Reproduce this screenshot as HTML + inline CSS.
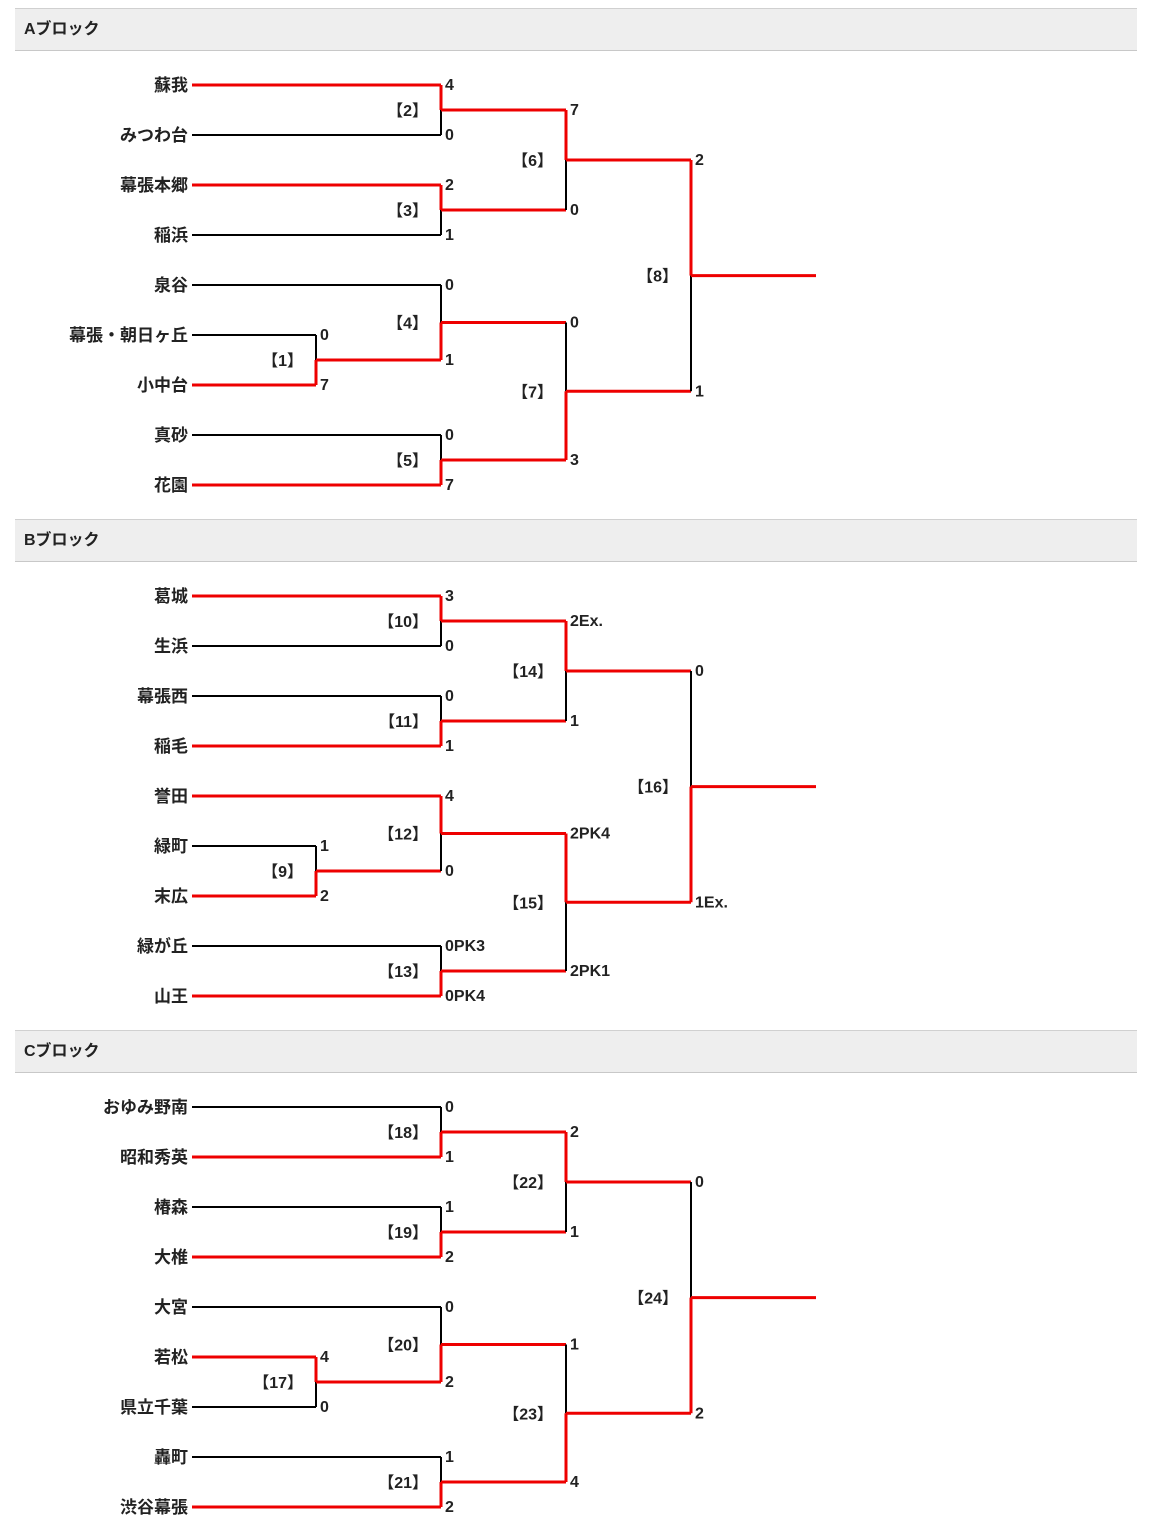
<!DOCTYPE html>
<html><head><meta charset="utf-8">
<style>
html,body{margin:0;padding:0;background:#fff;width:1151px;height:1526px;overflow:hidden}
svg text{font-family:"Liberation Sans","Noto Sans CJK JP",sans-serif;font-weight:bold;fill:#222}
</style></head>
<body>
<svg id="chart" width="1151" height="1526" xmlns="http://www.w3.org/2000/svg"></svg>
<script>
// Block titles
const blockTitles = ["Aブロック", "Bブロック", "Cブロック"];
// Teams per block (top to bottom)
const teamsA = ["蘇我","みつわ台","幕張本郷","稲浜","泉谷","幕張・朝日ヶ丘","小中台","真砂","花園"];
const teamsB = ["葛城","生浜","幕張西","稲毛","誉田","緑町","末広","緑が丘","山王"];
const teamsC = ["おゆみ野南","昭和秀英","椿森","大椎","大宮","若松","県立千葉","轟町","渋谷幕張"];
// Matches: id, round, top child, bottom child, top score, bottom score, winner (0 top / 1 bottom)
const matchesA = [
 ["1",0,"t5","t6","0","7",1],
 ["2",1,"t0","t1","4","0",0],
 ["3",1,"t2","t3","2","1",0],
 ["4",1,"t4","m1","0","1",1],
 ["5",1,"t7","t8","0","7",1],
 ["6",2,"m2","m3","7","0",0],
 ["7",2,"m4","m5","0","3",1],
 ["8",3,"m6","m7","2","1",0]
];
const matchesB = [
 ["9",0,"t5","t6","1","2",1],
 ["10",1,"t0","t1","3","0",0],
 ["11",1,"t2","t3","0","1",1],
 ["12",1,"t4","m9","4","0",0],
 ["13",1,"t7","t8","0PK3","0PK4",1],
 ["14",2,"m10","m11","2Ex.","1",0],
 ["15",2,"m12","m13","2PK4","2PK1",0],
 ["16",3,"m14","m15","0","1Ex.",1]
];
const matchesC = [
 ["17",0,"t5","t6","4","0",0],
 ["18",1,"t0","t1","0","1",1],
 ["19",1,"t2","t3","1","2",1],
 ["20",1,"t4","m17","0","2",1],
 ["21",1,"t7","t8","1","2",1],
 ["22",2,"m18","m19","2","1",0],
 ["23",2,"m20","m21","1","4",1],
 ["24",3,"m22","m23","0","2",1]
];
const blocks = [[teamsA,matchesA],[teamsB,matchesB],[teamsC,matchesC]];

const svg = document.getElementById('chart');
const NS = "http://www.w3.org/2000/svg";
const RED = "#ee0000", BLK = "#000";
function colX(r){ return 316 + r*125; }
function teamY(top,i){ return top + 77 + i*50; }
function mk(tag, attrs){ const e=document.createElementNS(NS,tag); for(const k in attrs) e.setAttribute(k,attrs[k]); svg.appendChild(e); return e; }

blocks.forEach(([teams,matches],b)=>{
  const top = 8 + b*511;
  const hdr = mk('rect',{x:15,y:top,width:1122,height:42,fill:"#eeeeee"});
  
  
  const b1 = mk('line',{x1:15,y1:top+0.5,x2:1137,y2:top+0.5,stroke:"#d0d0d0","stroke-width":1});
  
  
  const b2 = mk('line',{x1:15,y1:top+42.5,x2:1137,y2:top+42.5,stroke:"#c8c8c8","stroke-width":1});
  
  
  const ht = mk('text',{x:24,y:top+26,"font-size":16});
  ht.textContent = blockTitles[b];
  
  

  const teamWon = {};
  matches.forEach(m=>{ [m[2],m[3]].forEach((c,k)=>{ if(c[0]==='t') teamWon[c]=(m[6]===k); }); });
  teams.forEach((t,i)=>{
    const tx = mk('text',{x:188,y:teamY(top,i)+6,"font-size":17,"text-anchor":"end"});
    tx.textContent = t;
    
    
  });
  const outY = {};
  matches.forEach(m=>{
    const [id,r,c1,c2,s1,s2,w] = m;
    const x = colX(r);
    const ys = [c1,c2].map(c=> c[0]==='t' ? teamY(top,+c.slice(1)) : outY[c]);
    const mid = (ys[0]+ys[1])/2;
    outY['m'+id] = mid;
    [c1,c2].forEach((c,k)=>{
      let x0, red;
      if(c[0]==='t'){ x0 = 192; red = teamWon[c]; }
      else { const cm = matches.find(q=>q[0]===c.slice(1)); x0 = colX(cm[1]); red = true; }
      const ln = mk('line',{x1:x0,y1:ys[k],x2:x,y2:ys[k],stroke:red?RED:BLK,"stroke-width":red?3:2});
      
      
      const v = mk('line',{x1:x,y1:ys[k],x2:x,y2:mid,stroke:(w===k)?RED:BLK,"stroke-width":(w===k)?3:2});
      
      
      const st = mk('text',{x:x+4,y:ys[k]+5,"font-size":16});
      st.textContent = k===0 ? s1 : s2;
      
      
    });
    const lb = mk('text',{x:x-13,y:mid+6,"font-size":16,"text-anchor":"end"});
    lb.textContent = "【"+id+"】";
    
    
    if(r===3){
      const fl = mk('line',{x1:x,y1:mid,x2:816,y2:mid,stroke:RED,"stroke-width":3});
      
      
    }
  });
});
</script>
</body></html>
